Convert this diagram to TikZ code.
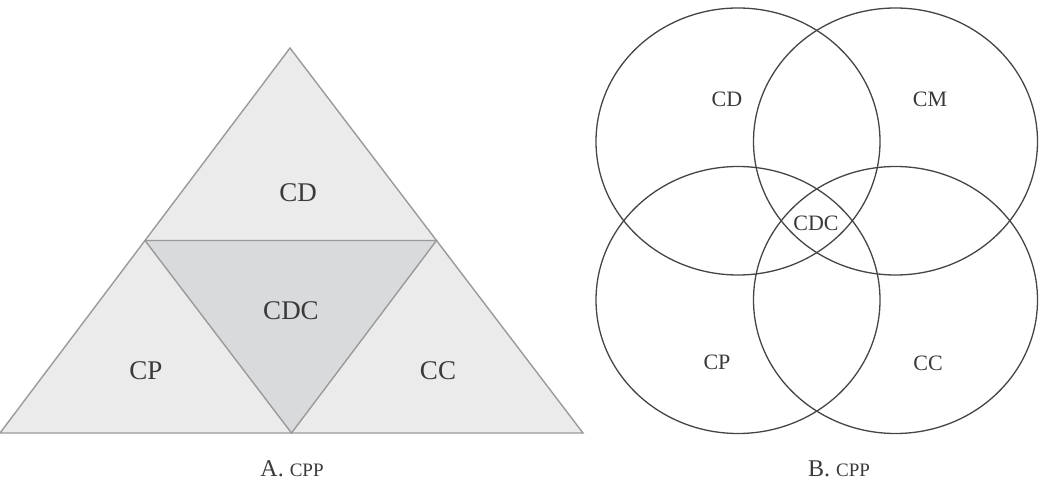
\documentclass[tikz,border=0pt]{standalone}
\usepackage{fontspec}
\setmainfont{Liberation Serif}
\usetikzlibrary{calc}
\definecolor{tfill}{HTML}{EBEBEB}
\definecolor{cfill}{HTML}{D9DADC}
\definecolor{tline}{HTML}{9A9A9A}
\definecolor{cline}{HTML}{454545}
\definecolor{txt}{HTML}{3A3A3A}
\tikzset{
  trilabel/.style={text=txt,font=\fontsize{27}{27}\selectfont,inner sep=0pt},
  venlabel/.style={text=txt,font=\fontsize{22}{22}\selectfont,inner sep=0pt},
  caplabel/.style={text=txt,font=\fontsize{24}{24}\selectfont,inner sep=0pt},
  triedge/.style={draw=tline,line width=1.4pt,line join=miter},
  venn/.style={draw=cline,line width=1.3pt},
}
\newcommand{\smc}[1]{{\fontsize{19}{19}\selectfont #1}}
\begin{document}
\begin{tikzpicture}[x=1pt,y=-1pt]
\useasboundingbox (0,0) rectangle (1040,486);
% triangle
\coordinate (apex) at (290,48);
\coordinate (bl) at (0,433);
\coordinate (br) at (583,433);
\coordinate (ml) at ($(apex)!0.5!(bl)$);
\coordinate (mr) at ($(apex)!0.5!(br)$);
\coordinate (mb) at ($(bl)!0.5!(br)$);
\fill[tfill] (apex) -- (bl) -- (br) -- cycle;
\fill[cfill] (ml) -- (mr) -- (mb) -- cycle;
\draw[triedge] (apex) -- (bl) -- (br) -- cycle;
\draw[triedge] (ml) -- (mr) -- (mb) -- cycle;
\node[trilabel] (tCD) at (298,193) {CD};
\node[trilabel] (tCDC) at (291,311) {CDC};
\node[trilabel] (tCP) at (146,371) {CP};
\node[trilabel] (tCC) at (438,371) {CC};
% venn
\draw[venn] (738,141.5) ellipse [x radius=142, y radius=133.5];
\draw[venn] (895.5,141.5) ellipse [x radius=142, y radius=133.5];
\draw[venn] (738,300) ellipse [x radius=142, y radius=133.5];
\draw[venn] (895.5,300) ellipse [x radius=142, y radius=133.5];
\node[venlabel] (vCD) at (727,99) {CD};
\node[venlabel] (vCM) at (930,99) {CM};
\node[venlabel] (vCDC) at (816,223) {CDC};
\node[venlabel] (vCP) at (717,362) {CP};
\node[venlabel] (vCC) at (928,363) {CC};
% captions
\node[caplabel] (capA) at (292,469) {A. \smc{CPP}};
\node[caplabel] (capB) at (839,469) {B. \smc{CPP}};
\end{tikzpicture}
\end{document}
